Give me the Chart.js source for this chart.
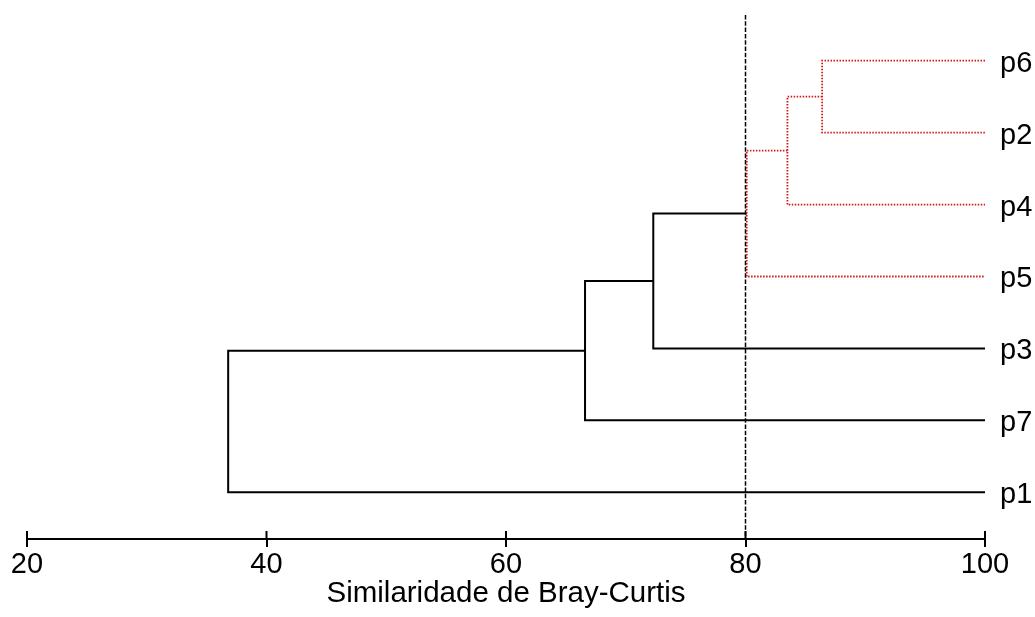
<!DOCTYPE html>
<html><head><meta charset="utf-8">
<script src="https://cdn.jsdelivr.net/npm/chart.js@4.4.1/dist/chart.umd.min.js"></script>
<style>html,body{margin:0;padding:0;background:#fff}#wrap{width:1035px;height:617px}</style>
</head><body><div id="wrap"><canvas id="c" width="1035" height="617"></canvas></div>
<script>
// leaves from bottom to top
const leaves = ['p1', 'p7', 'p3', 'p5', 'p4', 'p2', 'p6'];
// agglomeration steps: member A joined with member B at a similarity level
const mergeA = ['p6', 'm1', 'm2', 'm3', 'm4', 'm5'];
const mergeB = ['p2', 'p4', 'p5', 'p3', 'p7', 'p1'];
const mergeSim = [86.4, 83.5, 80.1, 72.3, 66.6, 36.8];
const cutoff = 80;
const xTicks = [20, 40, 60, 80, 100];

const FONT = "'Liberation Sans', Arial, sans-serif";

// build node positions and U-shaped link paths
const nodes = {};
leaves.forEach((n, i) => { nodes[n] = { x: 100, y: i + 1 }; });
const blackPts = [], redPts = [];
mergeSim.forEach((h, i) => {
  const a = nodes[mergeA[i]], b = nodes[mergeB[i]];
  nodes['m' + (i + 1)] = { x: h, y: (a.y + b.y) / 2 };
  const arr = h > cutoff ? redPts : blackPts;
  arr.push({ x: a.x, y: a.y }, { x: h, y: a.y }, { x: h, y: b.y }, { x: b.x, y: b.y }, { x: h, y: null });
});

const upTicks = {
  id: 'upTicks',
  afterDraw(chart) {
    const s = chart.scales.x, ctx = chart.ctx;
    ctx.save();
    ctx.strokeStyle = '#000'; ctx.lineWidth = 2;
    s.ticks.forEach(t => {
      const px = s.getPixelForValue(t.value);
      ctx.beginPath(); ctx.moveTo(px, s.top); ctx.lineTo(px, s.top - 8); ctx.stroke();
    });
    ctx.restore();
  }
};

new Chart(document.getElementById('c'), {
  type: 'line',
  data: {
    datasets: [
      { data: [{ x: cutoff, y: 7.635 }, { x: cutoff, y: 0.351 }], borderColor: '#000', borderWidth: 1.5, borderDash: [4.5, 1.8], pointRadius: 0, order: 3 },
      { data: blackPts, borderColor: '#000', borderWidth: 2, pointRadius: 0, spanGaps: false, order: 2 },
      { data: redPts, borderColor: 'rgb(205,25,25)', borderWidth: 1.8, borderDash: [1.5, 1.5], pointRadius: 0, spanGaps: false, order: 1 }
    ]
  },
  options: {
    responsive: false,
    animation: false,
    layout: { padding: { top: 15, left: 27, right: 0, bottom: 0 } },
    plugins: { legend: { display: false }, tooltip: { enabled: false } },
    elements: { line: { tension: 0, borderCapStyle: 'butt' } },
    scales: {
      x: {
        type: 'linear', position: 'bottom', min: 20, max: 100,
        afterBuildTicks: s => { s.ticks = xTicks.map(v => ({ value: v })); },
        afterFit: s => { s.height = 78; s.paddingLeft = 0; s.paddingRight = 0; },
        ticks: { font: { family: FONT, size: 29 }, color: '#000', padding: 1, maxRotation: 0, autoSkip: false },
        grid: { drawOnChartArea: false, color: '#000', lineWidth: 2, tickLength: 8 },
        border: { color: '#000', width: 2 },
        title: { display: true, text: 'Similaridade de Bray-Curtis', font: { family: FONT, size: 29.5 }, color: '#000', padding: { top: 0, bottom: 5 } }
      },
      y: {
        type: 'linear', position: 'right', min: 0.351, max: 7.635,
        afterBuildTicks: s => { s.ticks = leaves.map((_, i) => ({ value: i + 1 })); },
        afterFit: s => { s.width = 50; s.paddingTop = 0; s.paddingBottom = 0; },
        ticks: { callback: v => leaves[v - 1], font: { family: FONT, size: 29 }, color: '#000', padding: 15, labelOffset: 3 },
        grid: { display: false, drawTicks: false },
        border: { display: false }
      }
    }
  },
  plugins: [upTicks]
});
</script>
</body></html>
